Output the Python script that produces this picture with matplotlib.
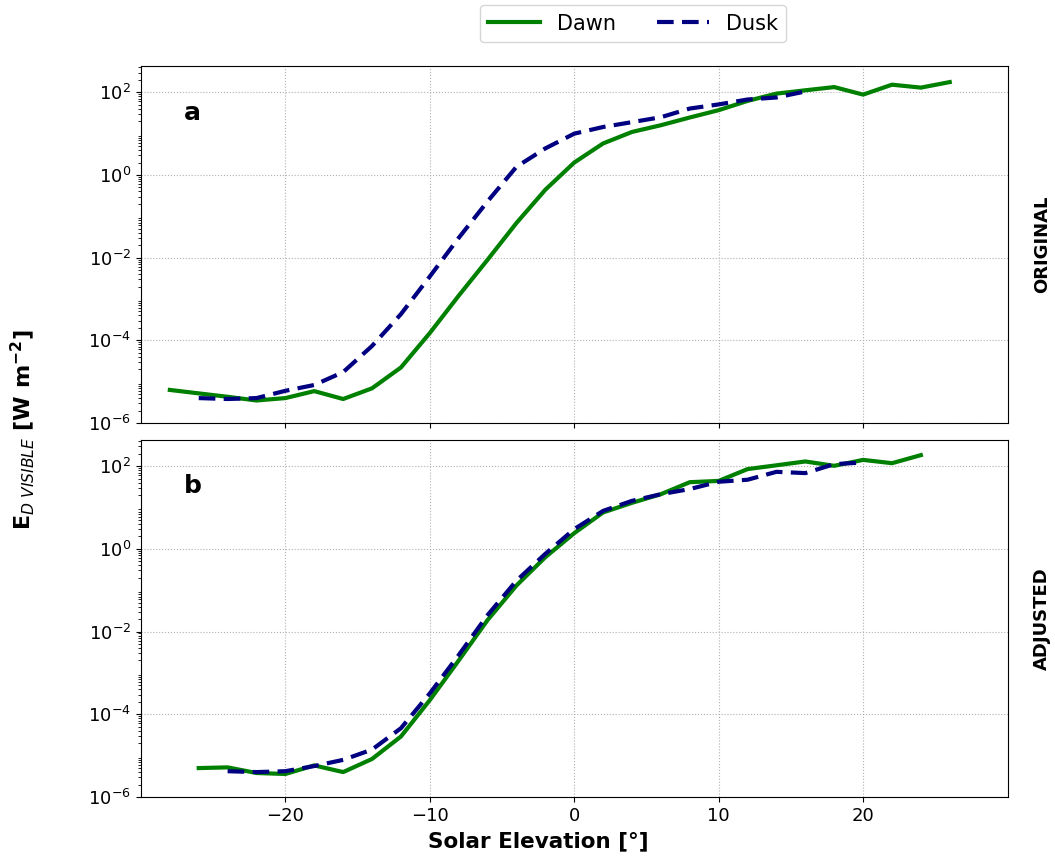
import matplotlib
matplotlib.use('Agg')
import matplotlib.pyplot as plt

# solar elevation (deg)
elev_dawn_a = [-28, -26, -24, -22, -20, -18, -16, -14, -12, -10, -8, -6, -4, -2, 0,
               2, 4, 6, 8, 10, 12, 14, 16, 18, 20, 22, 24, 26]
dawn_a = [6.3e-6, 5.2e-6, 4.3e-6, 3.5e-6, 4.0e-6, 5.9e-6, 3.8e-6, 6.9e-6, 2.2e-5, 1.5e-4,
          1.2e-3, 8.9e-3, 0.069, 0.44, 2.0,
          5.8, 11, 16, 24.6, 37, 62, 93, 112, 134, 88, 153, 130, 177]

elev_dusk_a = [-26, -24, -22, -20, -18, -16, -14, -12, -10, -8, -6, -4, -2, 0,
               2, 4, 6, 8, 10, 12, 14, 16]
dusk_a = [4.0e-6, 3.8e-6, 4.0e-6, 6.0e-6, 8.3e-6, 1.7e-5, 7.3e-5, 4.3e-4, 3.5e-3, 0.03,
          0.23, 1.58, 4.4, 10,
          14.5, 19, 25, 40.5, 51, 67, 75, 105]

elev_dawn_b = [-26, -24, -22, -20, -18, -16, -14, -12, -10, -8, -6, -4, -2, 0,
               2, 4, 6, 8, 10, 12, 14, 16, 18, 20, 22, 24]
dawn_b = [5.0e-6, 5.2e-6, 3.8e-6, 3.6e-6, 5.8e-6, 4.0e-6, 8.3e-6, 2.9e-5, 2.2e-4, 2.0e-3,
          0.019, 0.13, 0.63, 2.4,
          7.6, 13, 21, 41, 44, 85, 105, 130, 102, 142, 118, 185]

elev_dusk_b = [-24, -22, -20, -18, -16, -14, -12, -10, -8, -6, -4, -2, 0,
               2, 4, 6, 8, 10, 12, 14, 16, 18, 20]
dusk_b = [4.2e-6, 4.0e-6, 4.2e-6, 5.6e-6, 7.9e-6, 1.4e-5, 4.6e-5, 3.2e-4, 2.7e-3, 0.025,
          0.17, 0.76, 3.0,
          8.3, 14.5, 21, 28, 42, 47, 73, 68, 112, 123]

fig = plt.figure(figsize=(10.55, 8.59), dpi=100)
ax_a = fig.add_axes([0.1336, 0.5076, 0.8214, 0.4154])
ax_b = fig.add_axes([0.1336, 0.0722, 0.8214, 0.4156], sharex=ax_a)

panels = [(ax_a, elev_dawn_a, dawn_a, elev_dusk_a, dusk_a, 'a', 'ORIGINAL'),
          (ax_b, elev_dawn_b, dawn_b, elev_dusk_b, dusk_b, 'b', 'ADJUSTED')]

for ax, xd, yd, xk, yk, letter, side in panels:
    ax.plot(xd, yd, color='green', lw=3, label='Dawn')
    ax.plot(xk, yk, color='navy', lw=3, ls='--', dashes=(4, 2), label='Dusk')
    ax.set_yscale('log')
    ax.set_ylim(1e-6, 430)
    ax.set_xlim(-30, 30)
    ax.set_yticks([1e-6, 1e-4, 1e-2, 1e0, 1e2])
    ax.grid(True, which='major', ls=':', color='#b0b0b0', lw=0.8)
    ax.tick_params(labelsize=13)
    ax.text(0.05, 0.87, letter, transform=ax.transAxes, fontsize=18,
            fontweight='bold', va='center')
    ax.text(1.04, 0.5, side, transform=ax.transAxes, fontsize=13,
            fontweight='bold', rotation=90, va='center', ha='center')

ax_a.tick_params(labelbottom=False)
ax_b.set_xticks([-20, -10, 0, 10, 20])
ax_b.set_xlabel('Solar Elevation [°]', fontsize=15.5, fontweight='bold')
ax_b.xaxis.set_label_coords(0.458, -0.095)

fig.text(0.022, 0.5, r'$\mathbf{E}_{\mathit{D\ VISIBLE}}$ [W m$^{\mathbf{-2}}$]',
         rotation=90, va='center', ha='center', fontsize=16, fontweight='bold')

handles, labels = ax_a.get_legend_handles_labels()
fig.legend(handles, labels, loc='upper center', bbox_to_anchor=(0.6, 1.006),
           ncol=2, fontsize=15, handlelength=2.5, columnspacing=2.0)

fig.savefig('out.png', dpi=100)
